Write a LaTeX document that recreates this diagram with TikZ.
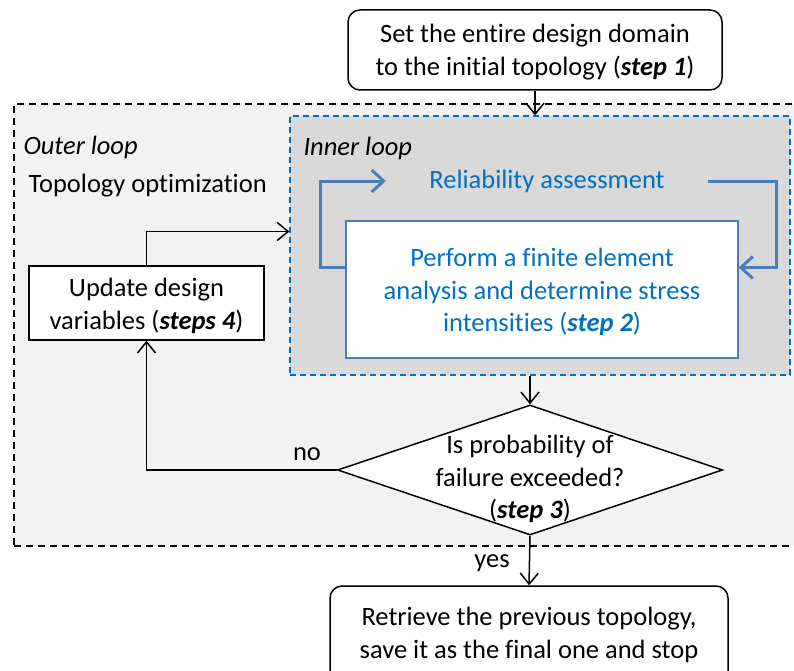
\documentclass[tikz,border=0pt]{standalone}
\usepackage{fontspec}
\setmainfont{Carlito}[Ligatures=NoCommon]
\usepackage{tikz}
\usetikzlibrary{shapes.geometric}
\usetikzlibrary{arrows.meta}
\usepackage{xcolor}
\definecolor{ColOuter}{RGB}{242,242,242}
\definecolor{ColInner}{RGB}{217,217,217}
\definecolor{ColDash}{RGB}{0,112,192}
\definecolor{ColText}{RGB}{0,112,192}
\definecolor{ColLoop}{RGB}{74,126,187}
\newcommand{\stp}[1]{\textbf{\textit{#1}}}
\tikzstyle{BigFont}=[font=\fontsize{26.5}{32.5}\selectfont]
\tikzstyle{OuterBox}=[draw=black,fill=ColOuter,dash pattern=on 7pt off 5pt,line width=1.3pt,
minimum width=786,minimum height=442,inner sep=0pt]
\tikzstyle{InnerBox}=[draw=ColDash,fill=ColInner,dash pattern=on 6pt off 4pt,line width=1.3pt,
minimum width=500,minimum height=259,inner sep=0pt]
\tikzstyle{TermBox}=[draw,fill=white,rounded corners=12pt,line width=1.5pt,align=center,BigFont]
\tikzstyle{StepBox}=[draw,fill=white,line width=1.5pt,align=center,BigFont]
\tikzstyle{FeaBox}=[draw=ColLoop,fill=white,line width=1.3pt,align=center,text=ColText,BigFont]
\tikzstyle{Decision}=[diamond,draw,fill=white,line width=1.5pt,inner sep=0pt,
minimum width=385,minimum height=130]
\tikzstyle{Flow}=[line width=1.5pt,-{Straight Barb[length=11pt,width=18pt,line width=1.5pt]}]
\tikzstyle{LoopArrow}=[ColLoop,line width=3pt,-{Straight Barb[length=12pt,width=22pt,line width=3pt]}]

\begin{document}
\begin{tikzpicture}[x=1pt,y=-1pt]
        \useasboundingbox(0,0)rectangle(794,671);
        \node[OuterBox](outer)at(407,325){};
        \node[InnerBox](inner)at(540,245.5){};
        \node[TermBox,minimum width=374,minimum height=80,text depth=0pt](start)at(535,50)
            {Set the entire design domain\\to the initial topology (\stp{step 1})};
        \node[BigFont,anchor=base west](outerlbl)at(20,154){\textit{Outer loop}};
        \node[BigFont,anchor=base west](topo)at(25,193){Topology optimization};
        \node[BigFont,anchor=base west](innerlbl)at(300,156){\textit{Inner loop}};
        \node[BigFont,text=ColText](rel)at(547,181){Reliability assessment};
        \node[FeaBox,minimum width=392,minimum height=137](fea)at(542,289.5){};
        \node[BigFont,align=center,text=ColText](featext)at(542,292)
            {Perform a finite element\\analysis and determine stress\\intensities (\stp{step 2})};
        \node[StepBox,minimum width=235,minimum height=74](upd)at(146.5,303){};
        \node[BigFont,align=center](updtext)at(146.5,306)
            {Update design\\variables (\stp{steps 4})};
        \node[Decision](dec)at(530,470){};
        \node[BigFont,align=center](dectext)at(530,479)
            {Is probability of\\failure exceeded?\\(\stp{step 3})};
        \node[TermBox,minimum width=398,minimum height=104](stop)at(529,638){};
        \node[BigFont,align=center](stoptext)at(529,635)
            {Retrieve the previous topology,\\save it as the final one and stop};
        \node[BigFont](no)at(307,454){no};
        \node[BigFont](yes)at(492,563){yes};
        \draw[Flow](start.south)--(start.south|-inner.north);
        \draw[Flow](dec.north|-inner.south)--(dec.north);
        \draw[Flow](upd.north)|-([yshift=14pt]inner.west);
        \draw[Flow](dec.west)-|(upd.south);
        \draw[Flow](dec.south)--(stop.north);
        \draw[LoopArrow]([yshift=22pt]fea.west)--++(-25,0)|-([xshift=-40pt]rel.west);
        \draw[LoopArrow]([xshift=40pt]rel.east)--++(68,0)|-([yshift=22pt]fea.east);
    \end{tikzpicture}
\end{document}
